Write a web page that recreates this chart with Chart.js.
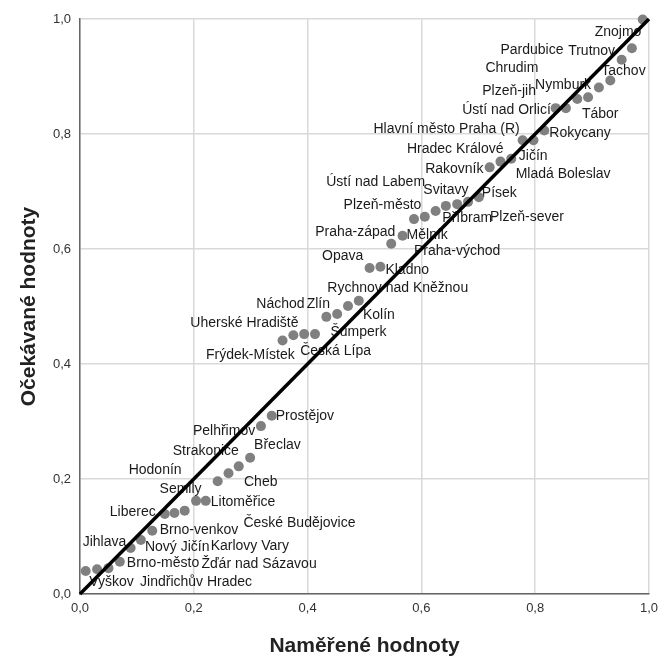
<!DOCTYPE html>
<html lang="cs">
<head>
<meta charset="utf-8">
<title>P-P graf</title>
<script src="https://cdn.jsdelivr.net/npm/chart.js@4.4.1/dist/chart.umd.min.js"></script>
<style>
  html, body { margin: 0; padding: 0; background: #fff; }
</style>
</head>
<body>
<canvas id="pp" width="665" height="659"></canvas>
<script>
// Okresy seřazené podle naměřené hodnoty
const okresy = [
    'Vyškov', 'Jindřichův Hradec', 'Žďár nad Sázavou', 'Brno-město', 'Jihlava',
    'Nový Jičín', 'Brno-venkov', 'Liberec', 'České Budějovice', 'Karlovy Vary',
    'Semily', 'Litoměřice', 'Hodonín', 'Cheb', 'Strakonice', 'Břeclav',
    'Pelhřimov', 'Prostějov', 'Frýdek-Místek', 'Uherské Hradiště', 'Česká Lípa',
    'Šumperk', 'Náchod', 'Zlín', 'Kolín', 'Rychnov nad Kněžnou', 'Opava',
    'Kladno', 'Praha-západ', 'Mělník', 'Praha-východ', 'Příbram', 'Plzeň-město',
    'Svitavy', 'Ústí nad Labem', 'Plzeň-sever', 'Písek', 'Rakovník',
    'Hradec Králové', 'Jičín', 'Mladá Boleslav', 'Hlavní město Praha (R)',
    'Rokycany', 'Ústí nad Orlicí', 'Tábor', 'Plzeň-jih', 'Nymburk', 'Chrudim',
    'Tachov', 'Trutnov', 'Pardubice', 'Znojmo'
];

// Naměřené kumulativní pravděpodobnosti (osa x)
const namerene = [
    0.010, 0.030, 0.050, 0.070, 0.089, 0.107, 0.127, 0.149, 0.166, 0.184,
    0.204, 0.221, 0.242, 0.261, 0.279, 0.299, 0.318, 0.337, 0.356, 0.375,
    0.394, 0.413, 0.433, 0.452, 0.471, 0.490, 0.509, 0.528, 0.547, 0.567,
    0.587, 0.606, 0.625, 0.643, 0.663, 0.682, 0.701, 0.720, 0.739, 0.758,
    0.778, 0.797, 0.816, 0.836, 0.854, 0.874, 0.893, 0.912, 0.932, 0.952,
    0.970, 0.989
];

// Očekávané kumulativní pravděpodobnosti (osa y)
const ocekavane = [
    0.040, 0.043, 0.045, 0.056, 0.080, 0.094, 0.110, 0.139, 0.141, 0.145,
    0.162, 0.162, 0.196, 0.210, 0.222, 0.237, 0.292, 0.310, 0.441, 0.450,
    0.452, 0.452, 0.482, 0.487, 0.501, 0.510, 0.567, 0.569, 0.609, 0.623,
    0.652, 0.656, 0.666, 0.675, 0.678, 0.682, 0.690, 0.742, 0.752, 0.757,
    0.789, 0.789, 0.806, 0.845, 0.845, 0.861, 0.864, 0.881, 0.893, 0.929,
    0.949, 0.999
];

const tickValues = [0, 0.2, 0.4, 0.6, 0.8, 1.0];
const diagonal = [0, 1];

// Posun popisku vůči bodu v px: [k levému okraji textu, ke středu textu]
const labelOffsets = [
    [3.5, 11], [43, 13], [93, -4], [7, 1], [-48, -6],
    [4, 7], [7.5, -1], [-55, -2], [69, 10], [26, 36],
    [-36.5, -12], [5, 1], [-89, -11.5], [15.5, 8.5], [-66, -15.5], [4, -12.5],
    [-68, 5], [4, 0], [-76.5, 15], [-103, -12], [-4, 17.5],
    [15.5, -2], [-70, -13], [-30.5, -10], [15, 9], [-31.5, -13], [-47.5, -12],
    [5, 3.5], [-76, -12], [4, -1], [0, 32.5], [17.5, 1], [-92, -5.5],
    [-22.5, -15.5], [-131, -22], [22, 15], [3, -4.5], [-64.5, 2],
    [-93.5, -12], [7.5, -3], [-7, 33.5], [-160, -11],
    [5, 2.5], [-93.5, 2], [16, 6], [-95, -8], [-53, -12], [-113.5, -19],
    [-9, -9], [-53.5, -8.5], [-131.5, 1.5], [-48, 13]
];

const FONT = '"Liberation Sans", Arial, sans-serif';
const fmt = v => Number(v).toFixed(1).replace('.', ',');

// Popisky okresů se kreslí pod body i pod diagonálu
const popiskyPlugin = {
    id: 'popisky',
    beforeDatasetsDraw(chart) {
        const { ctx, scales: { x, y } } = chart;
        ctx.save();
        ctx.font = '14px ' + FONT;
        ctx.fillStyle = '#1a1a1a';
        ctx.textAlign = 'left';
        ctx.textBaseline = 'middle';
        okresy.forEach((name, i) => {
            const px = x.getPixelForValue(namerene[i]);
            const py = y.getPixelForValue(ocekavane[i]);
            const [dx, dy] = labelOffsets[i];
            ctx.fillText(name, px + dx, py + dy);
        });
        ctx.restore();
    }
};

const axisTicks = scale => {
    scale.ticks = tickValues.map(v => ({ value: v }));
};

new Chart(document.getElementById('pp'), {
    type: 'scatter',
    data: {
        datasets: [
            {
                // referenční přímka y = x
                data: diagonal.map(v => ({ x: v, y: v })),
                showLine: true,
                borderColor: '#000',
                borderWidth: 3.5,
                pointRadius: 0,
                order: 0,
                clip: false
            },
            {
                data: namerene.map((v, i) => ({ x: v, y: ocekavane[i] })),
                backgroundColor: '#808080',
                borderWidth: 0,
                pointRadius: 5,
                order: 1,
                clip: false
            }
        ]
    },
    options: {
        responsive: false,
        animation: false,
        devicePixelRatio: 1,
        layout: { padding: { left: 0, right: 11, top: 19, bottom: 0 } },
        plugins: {
            legend: { display: false },
            tooltip: { enabled: false }
        },
        scales: {
            x: {
                type: 'linear',
                min: 0,
                max: 1,
                afterBuildTicks: axisTicks,
                afterFit: scale => { scale.height = 65; },
                ticks: {
                    callback: fmt,
                    color: '#333',
                    padding: 7,
                    maxRotation: 0,
                    font: { size: 13, family: FONT }
                },
                grid: { color: '#d9d9d9', lineWidth: 1.5, drawTicks: false },
                border: { color: '#666', width: 1.5 },
                title: {
                    display: true,
                    text: 'Naměřené hodnoty',
                    color: '#222',
                    padding: { top: 0, bottom: 0 },
                    font: { size: 21, weight: 'bold', family: FONT }
                }
            },
            y: {
                type: 'linear',
                min: 0,
                max: 1,
                afterBuildTicks: axisTicks,
                afterFit: scale => { scale.width = 80; },
                ticks: {
                    callback: fmt,
                    color: '#333',
                    padding: 9,
                    font: { size: 13, family: FONT }
                },
                grid: { color: '#d9d9d9', lineWidth: 1.5, drawTicks: false },
                border: { color: '#666', width: 1.5 },
                title: {
                    display: true,
                    text: 'Očekávané hodnoty',
                    color: '#222',
                    padding: { top: 17, bottom: 0 },
                    font: { size: 21, weight: 'bold', family: FONT }
                }
            }
        }
    },
    plugins: [popiskyPlugin]
});
</script>
</body>
</html>
